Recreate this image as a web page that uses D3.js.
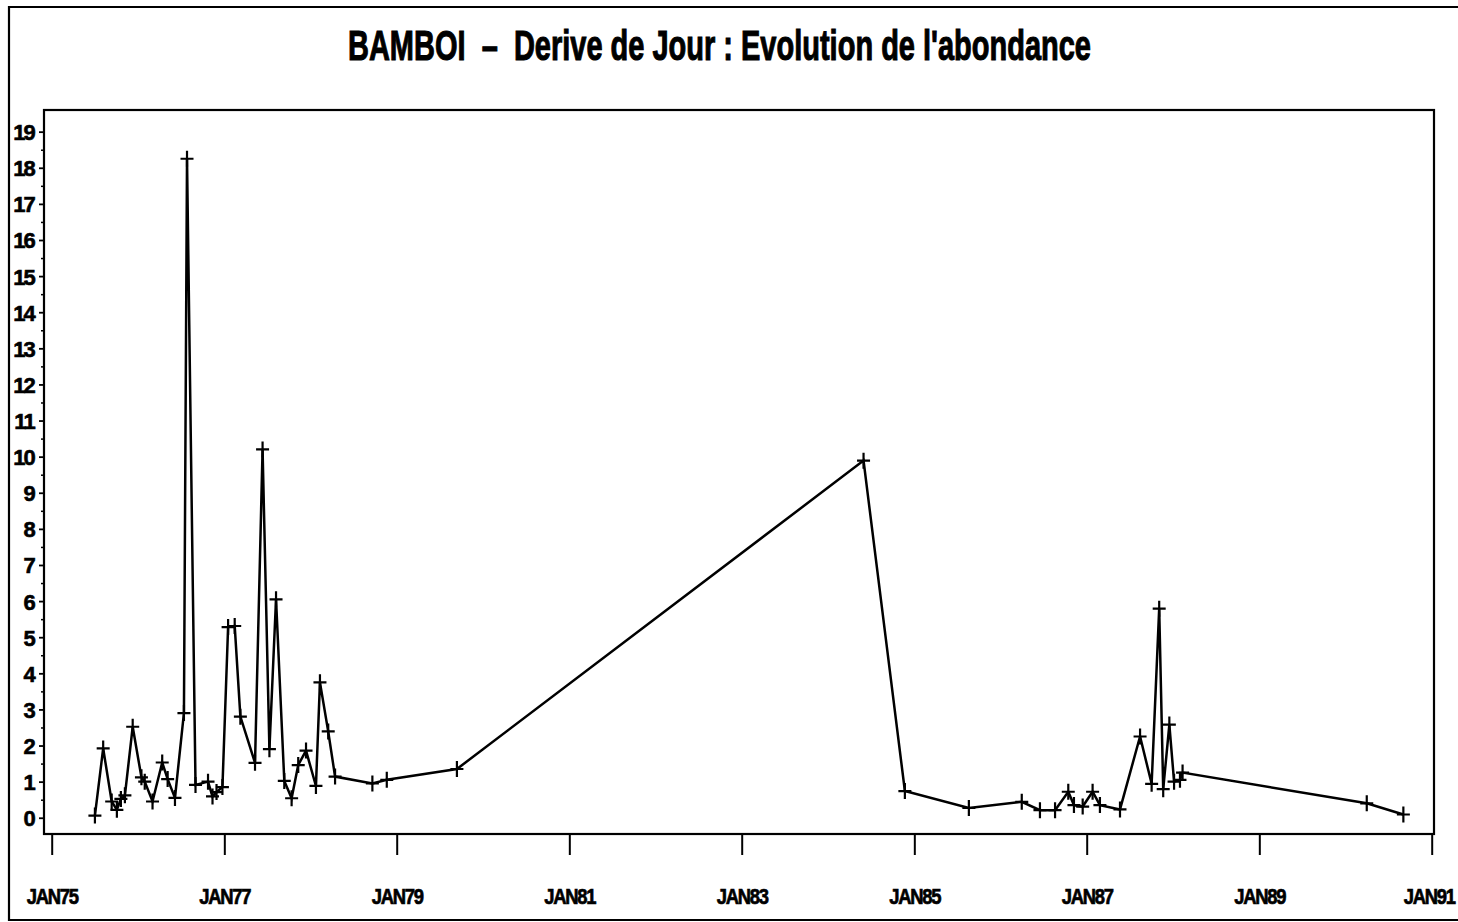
<!DOCTYPE html>
<html>
<head>
<meta charset="utf-8">
<script src="https://cdn.jsdelivr.net/npm/d3@7"></script>
<style>
  html, body { margin: 0; padding: 0; background: #fff; }
  svg { display: block; }
  text { font-family: "Liberation Sans Narrow", "Arial Narrow", "Liberation Sans", sans-serif; font-weight: bold; fill: #000; }
</style>
</head>
<body>
<svg id="chart" width="1458" height="922"></svg>
<script>
// Sampling dates (day drift samples) and abundance values
const sampleDates = [
  "1975-07-03", "1975-08-07", "1975-09-12", "1975-10-04", "1975-10-21", "1975-11-07",
  "1975-12-10", "1976-01-16", "1976-01-30", "1976-03-03", "1976-04-13", "1976-05-06",
  "1976-06-06", "1976-07-14", "1976-07-27", "1976-09-01", "1976-10-24", "1976-11-12",
  "1976-11-29", "1976-12-24", "1977-01-17", "1977-02-14", "1977-03-10", "1977-05-11",
  "1977-06-12", "1977-07-11", "1977-08-08", "1977-09-12", "1977-10-13", "1977-11-10",
  "1977-12-13", "1978-01-24", "1978-02-10", "1978-03-17", "1978-04-15", "1978-09-20",
  "1978-11-20", "1979-09-13", "1984-05-31", "1984-11-22", "1985-08-20", "1986-04-01",
  "1986-06-17", "1986-08-20", "1986-10-15", "1986-11-08", "1986-12-15", "1987-01-26",
  "1987-02-26", "1987-05-22", "1987-08-15", "1987-10-03", "1987-11-04", "1987-11-21",
  "1987-12-17", "1988-01-06", "1988-01-31", "1988-02-11", "1990-04-01", "1990-09-03"
];
const abundance = [
  0.06, 1.92, 0.45, 0.22, 0.52, 0.62,
  2.52, 1.12, 1.0, 0.45, 1.53, 1.07,
  0.55, 2.9, 18.25, 0.91, 1.0, 0.59,
  0.71, 0.85, 5.28, 5.31, 2.8, 1.52,
  10.2, 1.9, 6.05, 1.02, 0.54, 1.46,
  1.86, 0.88, 3.75, 2.39, 1.14, 0.95,
  1.05, 1.35, 9.89, 0.74, 0.27, 0.44,
  0.21, 0.21, 0.72, 0.35, 0.31, 0.72,
  0.35, 0.23, 2.25, 0.94, 5.79, 0.79,
  2.58, 1.0, 1.05, 1.25, 0.4, 0.09
];
const yTickValues = d3.range(0, 20);
const yMinorValues = d3.range(0.5, 19.5, 1);
const xTickYears = [1975, 1977, 1979, 1981, 1983, 1985, 1987, 1989, 1991];
const titleText = "BAMBOI\u00a0\u00a0\u2013\u00a0\u00a0Derive de Jour : Evolution de l'abondance";

const parse = d3.timeParse("%Y-%m-%d");
const points = sampleDates.map((d, i) => ({ date: parse(d), value: abundance[i] }));

const svg = d3.select("#chart");

// Plot frame
const frame = { left: 44, top: 110, right: 1434, bottom: 834 };

const x = d3.scaleTime()
  .domain([new Date(1975, 0, 1), new Date(1991, 0, 1)])
  .range([51.7, 1431.7]);
const y = d3.scaleLinear()
  .domain([-0.45, 19.6])
  .range([frame.bottom, frame.top]);

// Outer page border
svg.append("path")
  .attr("d", "M1470,7H9V920H1470")
  .attr("fill", "none")
  .attr("stroke", "#000")
  .attr("stroke-width", 2.2);

// Title
svg.append("text")
  .attr("x", 348)
  .attr("y", 60)
  .attr("font-size", 43)
  .attr("textLength", 743)
  .attr("lengthAdjust", "spacingAndGlyphs")
  .attr("stroke", "#000")
  .attr("stroke-width", 1.1)
  .text(titleText);

// Frame rectangle
svg.append("rect")
  .attr("x", frame.left).attr("y", frame.top)
  .attr("width", frame.right - frame.left)
  .attr("height", frame.bottom - frame.top)
  .attr("fill", "none")
  .attr("stroke", "#000")
  .attr("stroke-width", 2.2);

// Y axis: major ticks with labels
const yAxis = svg.append("g")
  .attr("transform", `translate(${frame.left},0)`)
  .call(d3.axisLeft(y).tickValues(yTickValues).tickSize(5).tickPadding(5).tickFormat(d3.format("d")));
yAxis.select(".domain").remove();
yAxis.selectAll(".tick line").attr("stroke", "#000").attr("stroke-width", 1.8);
yAxis.selectAll(".tick text")
  .attr("font-size", 22)
  .attr("font-family", null)
  .attr("dy", "0.36em")
  .attr("letter-spacing", -1.8)
  .attr("stroke", "#000")
  .attr("stroke-width", 0.6);

// Y axis: minor ticks
const yMinor = svg.append("g")
  .attr("transform", `translate(${frame.left},0)`)
  .call(d3.axisLeft(y).tickValues(yMinorValues).tickSize(3).tickFormat(""));
yMinor.select(".domain").remove();
yMinor.selectAll(".tick line").attr("stroke", "#000").attr("stroke-width", 1.5);

// X axis
const xAxis = svg.append("g")
  .attr("transform", `translate(0,${frame.bottom})`)
  .call(d3.axisBottom(x)
    .tickValues(xTickYears.map(yr => new Date(yr, 0, 1)))
    .tickSize(21)
    .tickFormat(d => "JAN" + d3.timeFormat("%y")(d)));
xAxis.select(".domain").remove();
xAxis.selectAll(".tick line").attr("stroke", "#000").attr("stroke-width", 2);
xAxis.selectAll(".tick text")
  .attr("font-size", 22)
  .attr("font-family", null)
  .attr("y", 70)
  .attr("dy", null)
  .attr("letter-spacing", -1.5)
  .attr("textLength", 51)
  .attr("lengthAdjust", "spacingAndGlyphs")
  .attr("stroke", "#000")
  .attr("stroke-width", 0.7);
// keep the last label inside the page edge
xAxis.selectAll(".tick text").filter((d, i, n) => i === n.length - 1).attr("dx", -3);

// Abundance line
const line = d3.line()
  .x(d => x(d.date))
  .y(d => y(d.value));
svg.append("path")
  .datum(points)
  .attr("d", line)
  .attr("fill", "none")
  .attr("stroke", "#000")
  .attr("stroke-width", 2.5)
  .attr("stroke-linejoin", "miter");

// Plus markers at each sample
svg.append("g")
  .selectAll("path")
  .data(points)
  .join("path")
  .attr("transform", d => `translate(${x(d.date)},${y(d.value)})`)
  .attr("d", "M-6.5,0H6.5M0,-8V8")
  .attr("stroke", "#000")
  .attr("stroke-width", 2.2)
  .attr("fill", "none");
</script>
</body>
</html>
